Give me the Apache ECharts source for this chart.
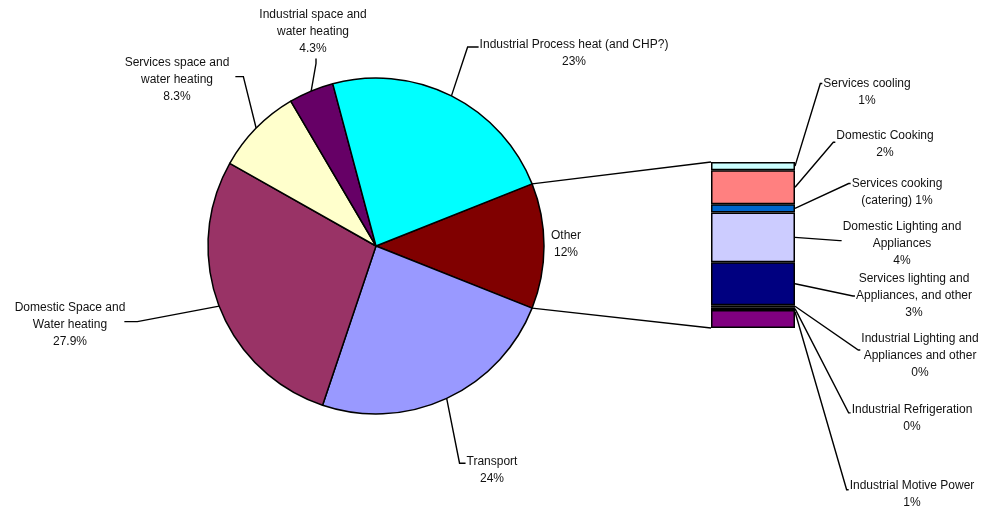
<!DOCTYPE html>
<html>
<head>
<meta charset="utf-8">
<script src="https://cdn.jsdelivr.net/npm/echarts@6/dist/echarts.min.js"></script>
<style>
  html, body { margin: 0; padding: 0; background: #fff; }
  #chart { width: 984px; height: 506px; }
</style>
</head>
<body>
<div id="chart"></div>
<script>
  // main pie, clockwise starting at the "Other" slice
  const pieLabels = ['Other', 'Transport', 'Domestic Space and\nWater heating', 'Services space and\nwater heating',
    'Industrial space and\nwater heating', 'Industrial Process heat (and CHP?)'];
  const pieValues = [12, 24, 27.9, 8.3, 4.3, 23];
  const pieColors = ['#800000', '#9999ff', '#993366', '#ffffcc', '#660066', '#00ffff'];

  // breakdown of "Other", top to bottom ({p} = percentage)
  const barLabels = ['Services cooling\n{p}', 'Domestic Cooking\n{p}', 'Services cooking\n(catering) {p}',
    'Domestic Lighting and\nAppliances\n{p}', 'Services lighting and\nAppliances, and other\n{p}',
    'Industrial Lighting and\nAppliances and other\n{p}', 'Industrial Refrigeration\n{p}', 'Industrial Motive Power\n{p}'];
  const barValues = [0.6, 2.45, 0.6, 3.6, 3.1, 0.15, 0.2, 1.3];
  const barColors = ['#ccffff', '#ff8080', '#0066cc', '#ccccff', '#000080', '#1a1a00', '#666600', '#800080'];

  // label placement (centre of text block) and leader line attachment
  const pieLabelPos = [
    {x: 566, y: 244, side: 'none'},
    {x: 492, y: 470, side: 'left', row: 0.1, stub: 7, gap: 1},
    {x: 70, y: 325, side: 'right', row: 0.8, stub: 12, gap: -1},
    {x: 177, y: 80, side: 'right', row: 0.8, stub: 14, gap: 6},
    {x: 313, y: 32, side: 'bottom', stub: 6, gap: 3},
    {x: 574, y: 53, side: 'left', row: 0.15, stub: 12, gap: 1}
  ];
  const barLabelPos = [
    {x: 867, y: 92, side: 'left', row: 0, stub: 3, gap: 1, at: 0.5},
    {x: 885, y: 144, side: 'left', row: 0.4, stub: 3, gap: 1, at: 0.5},
    {x: 897, y: 192, side: 'left', row: 0, stub: 3, gap: 1, at: 0.5},
    {x: 902, y: 244, side: 'left', row: 0.8, stub: 3, gap: 1, at: 0.5},
    {x: 914, y: 296, side: 'left', row: 1, stub: 3, gap: 1, at: 0.5},
    {x: 920, y: 356, side: 'left', row: 0.65, stub: 3, gap: 1, at: 0.5},
    {x: 912, y: 418, side: 'left', row: 0.2, stub: 3, gap: 1, at: 0.5},
    {x: 912, y: 494, side: 'left', row: 0.25, stub: 3, gap: 1, at: 0.1}
  ];

  const LINE_H = 17;
  const FONT_SIZE = 12;
  const FONT = 'Liberation Sans, Arial, sans-serif';
  const pieCenter = [376, 246];
  const pieRadius = 168;
  const gridBox = {left: 711, right: 189, top: 162, bottom: 178};

  const total = pieValues.reduce((a, b) => a + b, 0);
  const otherTotal = barValues.reduce((a, b) => a + b, 0);
  const startAngle = pieValues[0] / total * 360 / 2;

  function leader(p, start, w, h) {
    const left = p.x - w / 2, right = p.x + w / 2, top = p.y - h / 2, bottom = p.y + h / 2;
    const ry = top + ((p.row || 0) + 0.5) * LINE_H;
    if (p.side === 'left') return [start, [left - p.stub, ry], [left - p.gap, ry]];
    if (p.side === 'right') return [start, [right + p.stub, ry], [right + p.gap, ry]];
    return [start, [p.x + p.gap, bottom + p.stub], [p.x + p.gap, bottom + 1]];
  }

  function barText(i) {
    return barLabels[i].replace('{p}', Math.round(barValues[i]) + '%');
  }

  // measure a multi-line label the same way the canvas will draw it
  const ctx = document.createElement('canvas').getContext('2d');
  ctx.font = FONT_SIZE + 'px ' + FONT;
  function textBox(str) {
    const lines = str.split('\n');
    return {w: Math.max(...lines.map(l => ctx.measureText(l).width)), h: lines.length * LINE_H};
  }

  const labelText = {color: '#111', fontFamily: FONT, fontSize: FONT_SIZE, lineHeight: LINE_H};
  const lineStyle = {color: '#000', width: 1.4};

  const chart = echarts.init(document.getElementById('chart'));

  let series = [{
    type: 'pie',
    center: pieCenter,
    radius: pieRadius,
    startAngle: startAngle,
    clockwise: true,
    animation: false,
    silent: true,
    itemStyle: {borderColor: '#000', borderWidth: 1.5},
    label: Object.assign({show: true, position: 'outside', align: 'center',
      formatter: p => p.name + '\n' + p.value + '%'}, labelText),
    labelLine: {show: true, length: 10, length2: 10, lineStyle: lineStyle},
    labelLayout: function (params) {
      const p = pieLabelPos[params.dataIndex];
      const res = {x: p.x, y: p.y, align: 'center', verticalAlign: 'middle'};
      if (p.side !== 'none' && params.labelLinePoints) {
        res.labelLinePoints = leader(p, params.labelLinePoints[0].slice(), params.labelRect.width, params.labelRect.height);
      }
      return res;
    },
    data: pieLabels.map((name, i) => ({
      name: name,
      value: pieValues[i],
      itemStyle: {color: pieColors[i]},
      labelLine: {show: pieLabelPos[i].side !== 'none'}
    }))
  }];

  // stack from the bottom up, so walk the list backwards
  for (let i = barValues.length - 1; i >= 0; i--) {
    const idx = i;
    series.push({
      type: 'bar',
      stack: 'other',
      barWidth: '100%',
      animation: false,
      silent: true,
      itemStyle: {color: barColors[idx], borderColor: '#000', borderWidth: 1.5},
      label: Object.assign({show: true, position: 'right', align: 'center', formatter: () => barText(idx)}, labelText),
      labelLayout: () => ({x: barLabelPos[idx].x, y: barLabelPos[idx].y, align: 'center', verticalAlign: 'middle'}),
      data: [barValues[idx]]
    });
  }

  chart.setOption({
    backgroundColor: '#fff',
    grid: gridBox,
    xAxis: {type: 'category', data: ['Other'], show: false},
    yAxis: {type: 'value', min: 0, max: otherTotal, show: false},
    series: series
  });

  // connector lines between the "Other" slice and the breakdown bar
  const a = startAngle * Math.PI / 180;
  const edgeX = pieCenter[0] + pieRadius * Math.cos(a);
  const toPx = v => chart.convertToPixel({xAxisIndex: 0, yAxisIndex: 0}, [0, v]);
  const barRight = toPx(otherTotal)[0] + (toPx(otherTotal)[0] - gridBox.left);
  const graphics = [
    {type: 'line', silent: true, shape: {x1: edgeX, y1: pieCenter[1] - pieRadius * Math.sin(a), x2: gridBox.left, y2: toPx(otherTotal)[1]},
      style: {stroke: '#000', lineWidth: 1.4}},
    {type: 'line', silent: true, shape: {x1: edgeX, y1: pieCenter[1] + pieRadius * Math.sin(a), x2: gridBox.left, y2: toPx(0)[1]},
      style: {stroke: '#000', lineWidth: 1.4}}
  ];

  // leader lines from each bar segment to its label
  let upper = otherTotal;
  barValues.forEach((v, i) => {
    const p = barLabelPos[i];
    const yTop = toPx(upper)[1], yBot = toPx(upper - v)[1];
    upper -= v;
    const box = textBox(barText(i));
    const pts = leader(p, [barRight, yTop + (yBot - yTop) * p.at], box.w, box.h);
    graphics.push({type: 'polyline', silent: true, shape: {points: pts}, style: {stroke: '#000', lineWidth: 1.4, fill: null}});
  });
  chart.setOption({graphic: graphics});
</script>
</body>
</html>
